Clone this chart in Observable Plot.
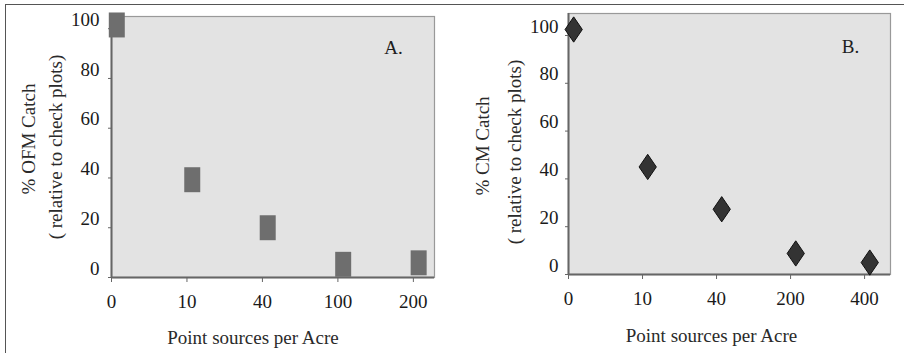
<!DOCTYPE html>
<html><head><meta charset="utf-8">
<script src="https://cdn.jsdelivr.net/npm/d3@7"></script>
<script src="https://cdn.jsdelivr.net/npm/@observablehq/plot@0.6"></script>
<style>
body{margin:0;background:#fff;}
#wrap{position:relative;width:904px;height:353px;overflow:hidden;background:#fff;}
#frame{position:absolute;left:5px;top:4px;width:920px;height:400px;border-top:1.5px solid #555;border-left:1.5px solid #555;}
.panel{position:absolute;top:0;}
#a{left:0}#b{left:452px}
</style>
</head><body>
<div id="wrap"><div id="frame"></div><div id="a" class="panel"></div><div id="b" class="panel"></div></div>
<script>
// ---- data ----
const catsA = ["0", "10", "40", "100", "200"];
const valsA = [101.5, 39.3, 20, 5.3, 5.9];
const catsB = ["0", "10", "40", "200", "400"];
const valsB = [102.5, 45, 27.3, 8.8, 5];
const yTicks = [0, 20, 40, 60, 80, 100];
const xTitle = "Point sources per Acre";
const yTitleA = ["% OFM Catch", "( relative to check plots)"];
const yTitleB = ["% CM Catch", "( relative to check plots)"];
const panelLabels = ["A.", "B."];

// ---- symbols ----
const rectSym = {draw(ctx, size) {
  const r = Math.sqrt(size / Math.PI), w = r, h = r * 1.56;
  ctx.moveTo(-w, -h); ctx.lineTo(w, -h); ctx.lineTo(w, h); ctx.lineTo(-w, h); ctx.closePath();
}};
const diamondSym = {draw(ctx, size) {
  const r = Math.sqrt(size / Math.PI), w = r * 1.08, h = r * 1.58;
  ctx.moveTo(0, -h); ctx.lineTo(w, 0); ctx.lineTo(0, h); ctx.lineTo(-w, 0); ctx.closePath();
}};

const FS = 19;
const txt = {fontSize: FS, stroke: "currentColor", strokeWidth: 0.25};
function panel(cfg) {
  const idx = d3.range(cfg.cats.length);
  return Plot.plot({
    width: 452, height: 353,
    marginLeft: cfg.ml, marginRight: cfg.mr, marginTop: cfg.mt, marginBottom: cfg.mb,
    style: {fontFamily: "'Liberation Serif', serif", fontSize: "19px", color: "#1e1e1e", background: "transparent"},
    x: {type: "linear", domain: [0, cfg.xMax], axis: null},
    y: {type: "linear", domain: [0, cfg.yMax], axis: null},
    marks: [
      Plot.frame({fill: "#e3e3e3", stroke: "#999", strokeWidth: 1.2}),
      Plot.ruleX([0], {stroke: "#666", strokeWidth: 2}),
      Plot.ruleY([0], {stroke: "#666", strokeWidth: 2}),
      Plot.axisY({ticks: yTicks, tickSize: 3, tickFormat: () => "", stroke: "#666", label: null}),
      Plot.axisY({ticks: yTicks, tickSize: 0, tickPadding: cfg.yPad, dy: -9, fill: "#1a1a1a", fontSize: FS, label: null}),
      Plot.axisX({ticks: idx, tickSize: 5, tickPadding: 12, tickFormat: i => cfg.cats[i], stroke: "#666", fill: "#1a1a1a", fontSize: FS, label: null}),
      Plot.dot(idx, {x: i => i + cfg.offset, y: i => cfg.vals[i], symbol: cfg.symbol, r: 8,
        fill: cfg.fill, stroke: cfg.stroke, strokeWidth: 1}),
      Plot.text([cfg.yTitle[0]], {text: d => d, frameAnchor: "left", rotate: -90, lineAnchor: "middle", textAnchor: "middle",
        dx: cfg.t1[0], dy: cfg.t1[1], fill: "#2a2a2a", fontSize: FS}),
      Plot.text([cfg.yTitle[1]], {text: d => d, frameAnchor: "left", rotate: -90, lineAnchor: "middle", textAnchor: "middle",
        dx: cfg.t2[0], dy: cfg.t2[1], fill: "#2a2a2a", fontSize: FS}),
      Plot.text([xTitle], {text: d => d, frameAnchor: "bottom", lineAnchor: "middle", textAnchor: "middle",
        dx: cfg.xt[0], dy: cfg.xt[1], fill: "#2a2a2a", fontSize: FS}),
      Plot.text([cfg.label], {text: d => d, frameAnchor: "top-right", lineAnchor: "middle", textAnchor: "middle",
        dx: cfg.lab[0], dy: cfg.lab[1], fill: "#1e1e1e", fontSize: FS})
    ]
  });
}

document.getElementById("a").append(panel({
  cats: catsA, vals: valsA, xMax: 4.28, yMax: 104.9,
  ml: 111, mr: 18, mt: 16, mb: 76, yPad: 12, offset: 0.07,
  symbol: rectSym, fill: "#6e6e6e", stroke: "none",
  yTitle: yTitleA, t1: [-83, -8], t2: [-56, 0], xt: [-20, 60], label: panelLabels[0], lab: [-41, 31]
}));
document.getElementById("b").append(panel({
  cats: catsB, vals: valsB, xMax: 4.35, yMax: 109.2,
  ml: 116, mr: 14, mt: 13, mb: 79, yPad: 10, offset: 0.07,
  symbol: diamondSym, fill: "#333", stroke: "#111",
  yTitle: yTitleB, t1: [-86, 2], t2: [-54, 8], xt: [-18, 61], label: panelLabels[1], lab: [-40, 33]
}));
</script>
</body></html>
